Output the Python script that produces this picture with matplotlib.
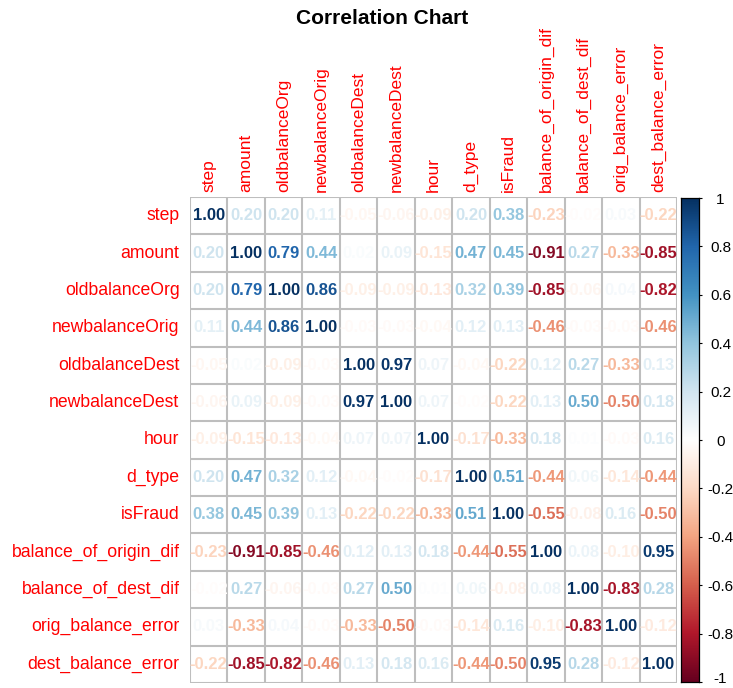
import numpy as np
import matplotlib
matplotlib.use("Agg")
import matplotlib.pyplot as plt
import matplotlib.transforms as mtransforms
from matplotlib.colors import LinearSegmentedColormap, Normalize

plt.rcParams['font.family'] = ['Liberation Sans', 'DejaVu Sans']

variables = ["step", "amount", "oldbalanceOrg", "newbalanceOrig", "oldbalanceDest",
             "newbalanceDest", "hour", "d_type", "isFraud", "balance_of_origin_dif",
             "balance_of_dest_dif", "orig_balance_error", "dest_balance_error"]

corr_step = [1.00, 0.20, 0.20, 0.11, -0.05, -0.06, -0.09, 0.20, 0.38, -0.23, -0.02, 0.03, -0.22]
corr_amount = [0.20, 1.00, 0.79, 0.44, 0.02, 0.09, -0.15, 0.47, 0.45, -0.91, 0.27, -0.33, -0.85]
corr_oldbalanceOrg = [0.20, 0.79, 1.00, 0.86, -0.09, -0.09, -0.13, 0.32, 0.39, -0.85, -0.06, 0.04, -0.82]
corr_newbalanceOrig = [0.11, 0.44, 0.86, 1.00, -0.03, -0.03, -0.04, 0.12, 0.13, -0.46, -0.03, -0.03, -0.46]
corr_oldbalanceDest = [-0.05, 0.02, -0.09, -0.03, 1.00, 0.97, 0.07, -0.04, -0.22, 0.12, 0.27, -0.33, 0.13]
corr_newbalanceDest = [-0.06, 0.09, -0.09, -0.03, 0.97, 1.00, 0.07, -0.02, -0.22, 0.13, 0.50, -0.50, 0.18]
corr_hour = [-0.09, -0.15, -0.13, -0.04, 0.07, 0.07, 1.00, -0.17, -0.33, 0.18, 0.01, -0.03, 0.16]
corr_d_type = [0.20, 0.47, 0.32, 0.12, -0.04, -0.02, -0.17, 1.00, 0.51, -0.44, 0.06, -0.14, -0.44]
corr_isFraud = [0.38, 0.45, 0.39, 0.13, -0.22, -0.22, -0.33, 0.51, 1.00, -0.55, -0.08, 0.16, -0.50]
corr_origin_dif = [-0.23, -0.91, -0.85, -0.46, 0.12, 0.13, 0.18, -0.44, -0.55, 1.00, 0.08, -0.10, 0.95]
corr_dest_dif = [-0.02, 0.27, -0.06, -0.03, 0.27, 0.50, 0.01, 0.06, -0.08, 0.08, 1.00, -0.83, 0.28]
corr_orig_error = [0.03, -0.33, 0.04, -0.03, -0.33, -0.50, -0.03, -0.14, 0.16, -0.10, -0.83, 1.00, -0.12]
corr_dest_error = [-0.22, -0.85, -0.82, -0.46, 0.13, 0.18, 0.16, -0.44, -0.50, 0.95, 0.28, -0.12, 1.00]

corr = np.array([corr_step, corr_amount, corr_oldbalanceOrg, corr_newbalanceOrig,
                 corr_oldbalanceDest, corr_newbalanceDest, corr_hour, corr_d_type,
                 corr_isFraud, corr_origin_dif, corr_dest_dif, corr_orig_error,
                 corr_dest_error])

legend_ticks = [-1, -0.8, -0.6, -0.4, -0.2, 0, 0.2, 0.4, 0.6, 0.8, 1]
legend_labels = ["-1", "-0.8", "-0.6", "-0.4", "-0.2", "0", "0.2", "0.4", "0.6", "0.8", "1"]

# corrplot-style RdBu palette
rdbu = ["#67001F", "#B2182B", "#D6604D", "#F4A582", "#FDDBC7", "#FFFFFF",
        "#D1E5F0", "#92C5DE", "#4393C3", "#2166AC", "#053061"]
cmap = LinearSegmentedColormap.from_list("corr_rdbu", rdbu, N=200)
norm = Normalize(-1, 1)

n = len(variables)
fig = plt.figure(figsize=(7.33, 6.88), dpi=100)
ax = fig.add_axes([0.2592, 0.0073, 0.6644, 0.7064])
ax.set_xlim(0.5, n + 0.5)
ax.set_ylim(n + 0.5, 0.5)
ax.axis("off")

grid_col = "#BEBEBE"
for k in range(n + 1):
    ax.plot([0.5 + k, 0.5 + k], [0.5, n + 0.5], color=grid_col, lw=1.5, zorder=1)
    ax.plot([0.5, n + 0.5], [0.5 + k, 0.5 + k], color=grid_col, lw=1.5, zorder=1)

for i in range(n):
    for j in range(n):
        v = corr[i, j]
        ax.text(j + 1, i + 1, f"{v:.2f}", ha="center", va="center",
                fontsize=12, fontweight="bold", color=cmap(norm(v)), zorder=3)

# variable names on both axes
for k, name in enumerate(variables):
    ax.text(0.22, k + 1, name, ha="right", va="center", fontsize=12.7,
            color="red", clip_on=False)
    ax.text(k + 1, 0.38, name, ha="center", va="bottom", rotation=90,
            fontsize=12.5, color="red", clip_on=False)

fig.text(0.521, 0.973, "Correlation Chart", ha="center", va="center",
         fontsize=15, fontweight="bold")

# colour legend
cax = fig.add_axes([0.929, 0.0087, 0.0246, 0.7035])
grad = np.linspace(-1, 1, 200).reshape(-1, 1)
cax.imshow(grad, cmap=cmap, norm=norm, aspect="auto", origin="lower",
           extent=[0, 1, -1, 1])
cax.set_xticks([])
cax.yaxis.tick_right()
cax.set_yticks(legend_ticks)
cax.set_yticklabels(legend_labels, fontsize=11, ha="center")
cax.tick_params(axis="y", length=2.5, width=0.8, pad=13)
for s in cax.spines.values():
    s.set_linewidth(0.9)

# keep the bottom label inside the figure
low = cax.get_yticklabels()[0]
low.set_transform(low.get_transform() +
                  mtransforms.ScaledTranslation(0, 3 / 72, fig.dpi_scale_trans))

fig.savefig("out.png", dpi=100)
